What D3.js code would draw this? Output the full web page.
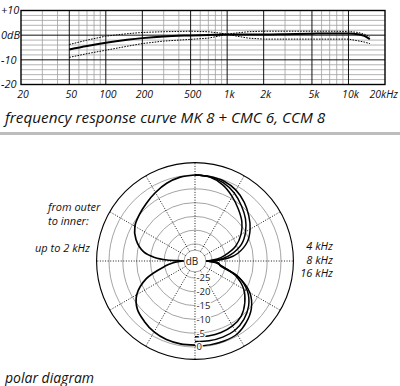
<!DOCTYPE html>
<html>
<head>
<meta charset="utf-8">
<script src="https://cdn.jsdelivr.net/npm/d3@7"></script>
<style>
  html, body { margin: 0; padding: 0; background: #fff; }
  svg { display: block; font-family: "Open Sans", sans-serif; font-style: italic; }
</style>
</head>
<body>
<svg id="chart" width="400" height="386"></svg>
<script>
// Frequency response (top) + polar diagram (bottom), MK 8 + CMC 6.

// ---- frequency response data (dB) ----
const freqs = [50, 70, 100, 150, 200, 300, 500, 700, 850, 1000, 1200, 1500, 2000, 3000, 5000, 7000, 10000, 12000, 13500, 15000];
const respMain  = [-5.8, -4.4, -3.1, -1.9, -1.2, -0.5, -0.1, 0.1, 0.2, 0.3, 0.3, 0.3, 0.3, 0.4, 0.6, 0.7, 0.7, 0.4, -0.3, -1.6];
const respUpper = [-3.8, -2.0, -0.4, 0.6, 1.1, 1.4, 1.6, 1.4, 0.9, 0.4, 0.9, 1.4, 1.6, 1.6, 1.6, 1.6, 1.5, 1.1, 0.4, -0.7];
const respLower = [-9.0, -7.5, -6.1, -4.5, -3.4, -2.4, -1.7, -1.2, -0.4, 0.4, -0.4, -1.2, -1.6, -1.6, -1.6, -1.6, -1.6, -2.3, -2.8, -3.4];

const freqTicks = [20, 50, 100, 200, 500, 1000, 2000, 5000, 10000, 20000];
const freqTickLabels = ['20', '50', '100', '200', '500', '1k', '2k', '5k', '10k', '20kHz'];
const minorFreqs = [30, 40, 60, 70, 80, 90, 300, 400, 600, 700, 800, 900, 3000, 4000, 6000, 7000, 8000, 9000];
const dbTicks = [10, 0, -10, -20];
const dbTickLabels = ['+10', '0dB', '-10', '-20'];

// ---- polar data (dB, angle in degrees from front, one half) ----
const angles = [0, 10, 20, 30, 40, 50, 60, 70, 80, 85, 88, 90, 92, 95, 100, 110, 120, 130, 140, 150, 160, 170, 180];
const polarLow = [0, -0.3, -1.2, -2.5, -3.8, -4.9, -6.0, -8.4, -12.3, -16.5, -21, -27, -25, -23, -20, -12.3, -6.8, -3.9, -2.6, -1.5, -0.9, -0.7, -0.7];
const polar4k  = [0, -0.1, -0.4, -1.5, -3.4, -5.7, -8.1, -11, -15.5, -19, -23, -27, -25, -22.5, -22, -14.5, -8.2, -4.5, -2.2, -0.6, -0.3, -0.3, -0.4];
const polar8k  = [0, -0.2, -1.0, -2.7, -5.0, -7.3, -10, -13.2, -18, -21, -24, -27, -25, -23, -21.7, -14.5, -9.2, -5.8, -3.6, -2.2, -1.8, -1.8, -2.0];
const polar16k = [0, -0.3, -1.8, -4.2, -6.7, -9, -11.9, -15.5, -20.5, -23, -25.5, -27, -25.5, -23.5, -21.5, -15.5, -10.8, -7.6, -5.1, -4.0, -3.6, -3.6, -3.7];
const ringDb = [0, -5, -10, -15, -20, -25];
const ringLabels = ['0', '-5', '-10', '-15', '-20', '-25'];

const svg = d3.select('#chart');

// ================= frequency response =================
const fx = d3.scaleLog().domain([20, 20000]).range([21, 385]);
const fy = d3.scaleLinear().domain([-20, 10]).range([84.5, 10.5]);

const fr = svg.append('g');

// horizontal grid every 2 dB
fr.append('g').selectAll('line').data(d3.range(-18, 10, 2).filter((d) => d !== 0 && d !== -10)).join('line')
  .attr('x1', fx(20)).attr('x2', fx(20000))
  .attr('y1', (d) => fy(d)).attr('y2', (d) => fy(d))
  .attr('stroke', '#a0a0a0').attr('stroke-width', 0.8);

// minor verticals
fr.append('g').selectAll('line').data(minorFreqs).join('line')
  .attr('x1', (d) => fx(d)).attr('x2', (d) => fx(d))
  .attr('y1', fy(10)).attr('y2', fy(-20))
  .attr('stroke', '#a0a0a0').attr('stroke-width', 0.8);

// major verticals + 0/-10 lines
fr.append('g').selectAll('line').data(freqTicks.slice(1, -1)).join('line')
  .attr('x1', (d) => fx(d)).attr('x2', (d) => fx(d))
  .attr('y1', fy(10)).attr('y2', fy(-20))
  .attr('stroke', '#111').attr('stroke-width', 1);
fr.append('g').selectAll('line').data([0, -10]).join('line')
  .attr('x1', fx(20)).attr('x2', fx(20000))
  .attr('y1', (d) => fy(d)).attr('y2', (d) => fy(d))
  .attr('stroke', '#111').attr('stroke-width', 1);

fr.append('rect')
  .attr('x', fx(20)).attr('y', fy(10))
  .attr('width', fx(20000) - fx(20)).attr('height', fy(-20) - fy(10))
  .attr('fill', 'none').attr('stroke', '#000').attr('stroke-width', 1.4);

const respLine = d3.line().x((d) => fx(d[0])).y((d) => fy(d[1]));
const zipF = (vals) => freqs.map((f, i) => [f, vals[i]]);

[respUpper, respLower].forEach((vals) => {
  fr.append('path').datum(zipF(vals))
    .attr('d', respLine)
    .attr('fill', 'none').attr('stroke', '#000')
    .attr('stroke-width', 1).attr('stroke-dasharray', '1.6,1.2');
});
fr.append('path').datum(zipF(respMain))
  .attr('d', respLine.curve(d3.curveMonotoneX))
  .attr('fill', 'none').attr('stroke', '#000').attr('stroke-width', 2);

// axis labels
fr.append('g').selectAll('text').data(dbTicks).join('text')
  .attr('x', 1).attr('y', (d) => fy(d)).attr('dy', '0.35em')
  .attr('font-size', 11).attr('fill', '#111')
  .text((d, i) => dbTickLabels[i]);

fr.append('g').selectAll('text').data(freqTicks).join('text')
  .attr('x', (d, i) => i === freqTicks.length - 1 ? 398 : fx(d) + 2)
  .attr('y', 94).attr('dy', '0.35em')
  .attr('text-anchor', (d, i) => i === freqTicks.length - 1 ? 'end' : 'middle')
  .attr('font-size', 10.5).attr('fill', '#111')
  .text((d, i) => freqTickLabels[i]);

svg.append('text')
  .attr('x', 5).attr('y', 123)
  .attr('font-size', 15.3).attr('fill', '#111')
  .text('frequency response curve MK 8 + CMC 6, CCM 8');

svg.append('rect')
  .attr('x', 0).attr('y', 132).attr('width', 400).attr('height', 3)
  .attr('fill', '#bdbdbd');

// ================= polar diagram =================
const cx = 195, cy = 261;
const r = d3.scaleLinear().domain([-25, 0]).range([17, 86]);
const outerR = r(4.5);
const innerR = r(-27.2);

const pg = svg.append('g').attr('transform', `translate(${cx},${cy})`);

pg.append('g').selectAll('circle').data(ringDb).join('circle')
  .attr('r', (d) => r(d))
  .attr('fill', 'none').attr('stroke', '#9a9a9a').attr('stroke-width', 0.9);

pg.append('circle').attr('r', innerR)
  .attr('fill', 'none').attr('stroke', '#9a9a9a').attr('stroke-width', 0.9);

pg.append('g').selectAll('line').data(d3.range(0, 360, 30)).join('line')
  .attr('x1', (d) => innerR * Math.sin(d * Math.PI / 180))
  .attr('y1', (d) => -innerR * Math.cos(d * Math.PI / 180))
  .attr('x2', (d) => outerR * Math.sin(d * Math.PI / 180))
  .attr('y2', (d) => -outerR * Math.cos(d * Math.PI / 180))
  .attr('stroke', '#000').attr('stroke-width', 0.9).attr('stroke-dasharray', '1,1.6');

pg.append('circle').attr('r', outerR)
  .attr('fill', 'none').attr('stroke', '#000').attr('stroke-width', 1.1);

const radial = d3.lineRadial()
  .angle((d) => d[0] * Math.PI / 180)
  .radius((d) => Math.max(innerR, r(d[1])))
  .curve(d3.curveCatmullRom);

const half = (vals, sign) => angles.map((a, i) => [sign * a, vals[i]]);

pg.append('path').datum(half(polarLow, -1))
  .attr('d', radial).attr('fill', 'none').attr('stroke', '#000').attr('stroke-width', 1.7);
[polar4k, polar8k, polar16k].forEach((vals) => {
  pg.append('path').datum(half(vals, 1))
    .attr('d', radial).attr('fill', 'none').attr('stroke', '#000').attr('stroke-width', 1.5);
});

pg.append('text').attr('x', -3).attr('y', 0).attr('dy', '0.35em')
  .attr('text-anchor', 'middle').attr('font-size', 10).attr('font-style', 'normal')
  .attr('fill', '#222').text('dB');

pg.append('g').selectAll('text').data(ringDb).join('text')
  .attr('x', 1.5).attr('y', (d) => r(d)).attr('dy', '0.35em')
  .attr('font-size', 9.5).attr('font-style', 'normal').attr('fill', '#222')
  .attr('stroke', '#fff').attr('stroke-width', 2.5).attr('paint-order', 'stroke')
  .text((d, i) => ringLabels[i]);

// legend text
const leftNotes = [['from outer', 48, 211], ['to inner:', 48, 225], ['up to 2 kHz', 35, 252]];
svg.append('g').selectAll('text').data(leftNotes).join('text')
  .attr('x', (d) => d[1]).attr('y', (d) => d[2])
  .attr('font-size', 11).attr('fill', '#111')
  .text((d) => d[0]);

const rightNotes = ['4 kHz', '8 kHz', '16 kHz'];
svg.append('g').selectAll('text').data(rightNotes).join('text')
  .attr('x', 333).attr('y', (d, i) => 250 + i * 13.5)
  .attr('text-anchor', 'end')
  .attr('font-size', 11).attr('fill', '#111')
  .text((d) => d);

svg.append('text')
  .attr('x', 5).attr('y', 383)
  .attr('font-size', 14).attr('fill', '#111')
  .text('polar diagram');
</script>
</body>
</html>
